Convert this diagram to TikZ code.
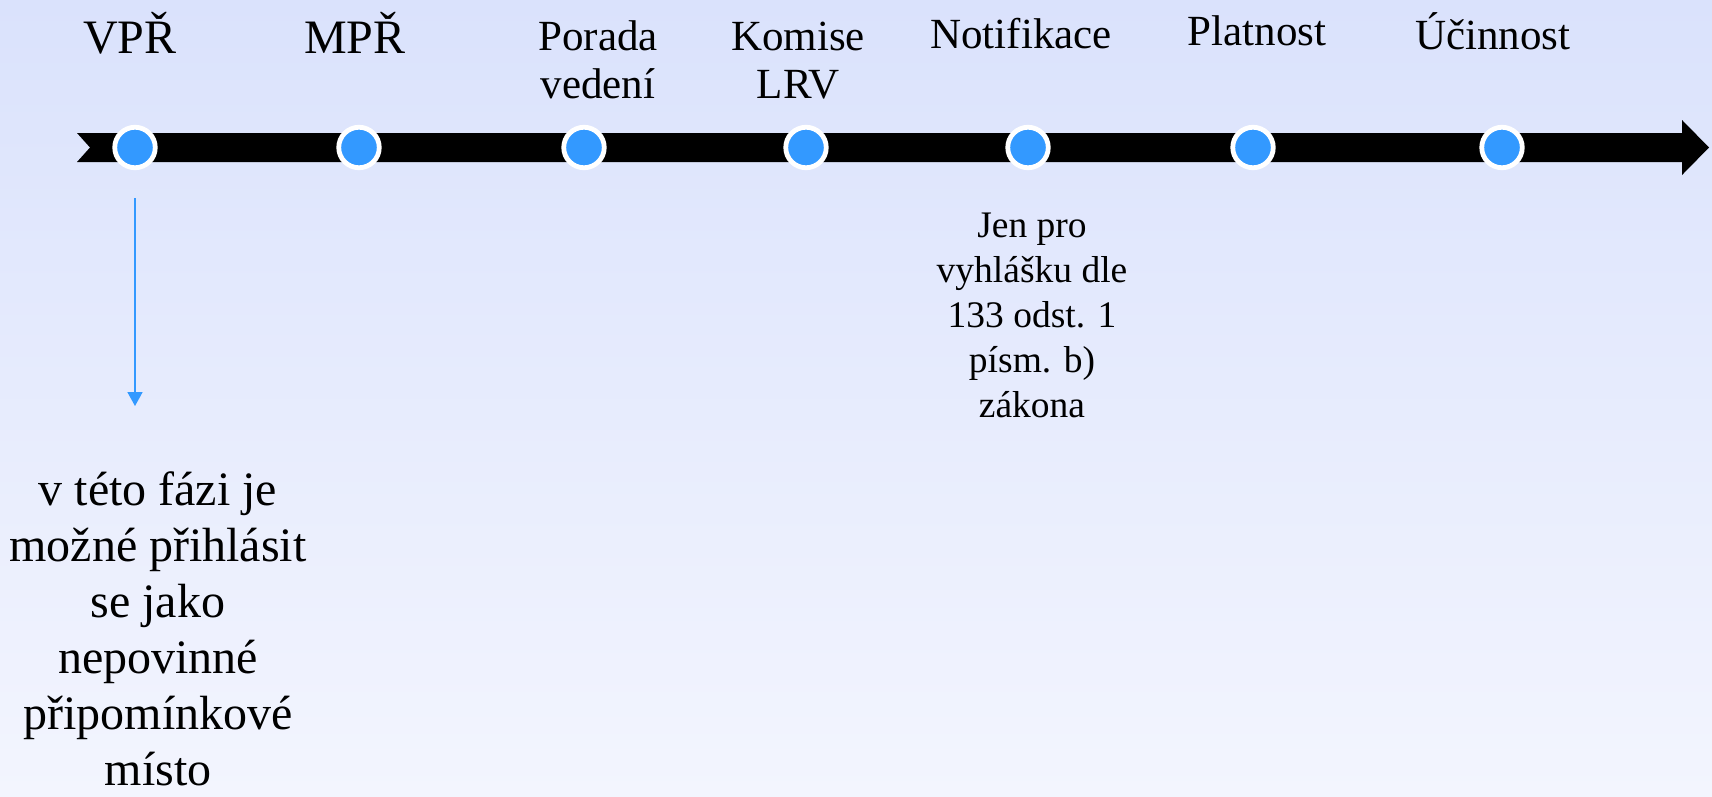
\documentclass[tikz,border=0pt]{standalone}
\usepackage{fontspec}
\setmainfont{Liberation Serif}
\usetikzlibrary{arrows.meta}
\definecolor{bgtop}{RGB}{218,226,252}
\definecolor{bgbot}{RGB}{243,245,254}
\definecolor{dotblue}{RGB}{51,153,255}
\begin{document}
\begin{tikzpicture}[x=1pt,y=-1pt,
  toplbl/.style={anchor=base,inner sep=0pt,align=center,font=\fontsize{43}{48}\selectfont},
  biglbl/.style={anchor=base,inner sep=0pt,font=\fontsize{48}{56}\selectfont},
  notelbl/.style={anchor=base,inner sep=0pt,align=center,font=\fontsize{37.5}{45}\selectfont},
  sidelbl/.style={anchor=base,inner sep=0pt,align=center,font=\fontsize{48}{56}\selectfont},
  stagedot/.style={circle,fill=dotblue,draw=white,line width=4.8pt,minimum size=40.5pt,inner sep=0pt},
  thinarrow/.style={draw=dotblue,line width=1.8pt,-{Triangle[length=14pt,width=15pt]}}
]
\shade[top color=bgtop,bottom color=bgbot] (0,0) rectangle (1712,796);
\useasboundingbox (0,0) rectangle (1712,796);
% timeline arrow
\fill[black] (77,133) -- (1682,133) -- (1682,120) -- (1709,147.5) -- (1682,175) -- (1682,162) -- (77,162) -- (90,147.5) -- cycle;
% dots
\node[stagedot] (d1) at (135,147.5) {};
\node[stagedot] (d2) at (359,147.5) {};
\node[stagedot] (d3) at (584,147.5) {};
\node[stagedot] (d4) at (806,147.5) {};
\node[stagedot] (d5) at (1028,147.5) {};
\node[stagedot] (d6) at (1253,147.5) {};
\node[stagedot] (d7) at (1502,147.5) {};
% labels
\node[biglbl] (l1) at (130,53) {VPŘ};
\node[biglbl] (l2) at (355,53) {MPŘ};
\node[toplbl] (l3) at (598,98) {Porada\\vedení};
\node[toplbl] (l4) at (798,98) {Komise\\LRV};
\node[toplbl] (l5) at (1021,48) {Notifikace};
\node[toplbl] (l6) at (1257,45) {Platnost};
\node[toplbl] (l7) at (1493,49) {Účinnost};
\node[notelbl] (n5) at (1032,417) {Jen pro\\vyhlášku dle\\133 odst. 1\\písm. b)\\zákona};
\node[sidelbl] (n1) at (158,785) {v této fázi je\\možné přihlásit\\se jako\\nepovinné\\připomínkové\\místo};
\coordinate (a1) at (135,198);
\coordinate (a2) at (135,406);
\draw[thinarrow] (a1) -- (a2);
\end{tikzpicture}
\end{document}
